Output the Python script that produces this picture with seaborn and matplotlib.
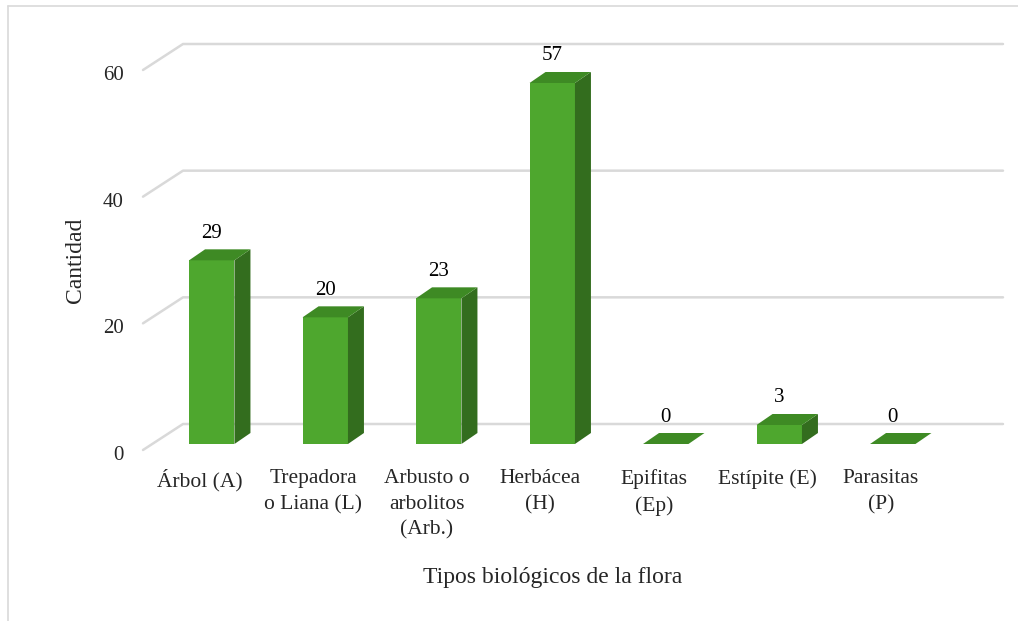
import pandas as pd
import matplotlib.pyplot as plt
import matplotlib.transforms as mtransforms
import seaborn as sns
from matplotlib.patches import Polygon
from matplotlib.lines import Line2D

# Data
categories = [
    "Árbol (A)",
    "Trepadora\no Liana (L)",
    "Arbusto o\narbolitos\n(Arb.)",
    "Herbácea\n(H)",
    "Epifitas\n(Ep)",
    "Estípite (E)",
    "Parasitas\n(P)",
]
values = [29, 20, 23, 57, 0, 3, 0]
y_ticks = [0, 20, 40, 60]

front_color = "#4EA72E"
top_color = "#3E8A24"
side_color = "#336D1E"
grid_color = "#D9D9D9"

sns.set_theme(style="white")
plt.rcParams["font.family"] = ["Liberation Serif", "DejaVu Serif"]

W, H = 1018, 621
fig = plt.figure(figsize=(W / 100, H / 100), dpi=100)
left_px, right_px, bottom_px, top_px = 143, 963, 450, 70
ax = fig.add_axes([left_px / W, 1 - bottom_px / H,
                   (right_px - left_px) / W, (bottom_px - top_px) / H])

df = pd.DataFrame({"tipo": categories, "cantidad": values})
sns.barplot(data=df, x="tipo", y="cantidad", color=front_color,
            width=0.4, saturation=1, ax=ax, zorder=3)

step = 113.5
xmax = -0.5 + (right_px - left_px) / step
ax.set_xlim(-0.5, xmax)
ax.set_ylim(0, 60)
px_x = 1 / step
px_y = 60 / (bottom_px - top_px)

# 3D look: bars shifted back a bit, with top and side faces
off_x, off_y = 12 * px_x, 6 * px_y
dep_x, dep_y = 16 * px_x, 11 * px_y
for p, v in zip(ax.patches, values):
    p.set_x(p.get_x() + off_x)
    p.set_y(off_y)
    p.set_edgecolor("none")
    p.set_clip_on(False)
    x0 = p.get_x()
    x1 = x0 + p.get_width()
    yt = v + off_y
    top = Polygon([(x0, yt), (x1, yt), (x1 + dep_x, yt + dep_y), (x0 + dep_x, yt + dep_y)],
                  closed=True, facecolor=top_color, edgecolor="none", zorder=4, clip_on=False)
    side = Polygon([(x1, off_y), (x1, yt), (x1 + dep_x, yt + dep_y), (x1 + dep_x, off_y + dep_y)],
                   closed=True, facecolor=side_color, edgecolor="none", zorder=4, clip_on=False)
    ax.add_patch(side)
    ax.add_patch(top)
    ax.text(x0 + p.get_width() / 2, yt + 27 * px_y, str(v), ha="center", va="center",
            fontsize=15, color="black")

# back wall gridlines
wall_x, wall_y = 40 * px_x, 26 * px_y
for t in y_ticks:
    ax.plot([-0.5, -0.5 + wall_x, xmax + wall_x], [t, t + wall_y, t + wall_y],
            color=grid_color, lw=1.8, clip_on=False, zorder=1)

ax.set_yticks(y_ticks)
ax.tick_params(axis="y", length=0, pad=14, labelsize=15)
ax.tick_params(axis="x", length=0, pad=14, labelsize=15.5)
shift = mtransforms.ScaledTranslation(0, -3 / 100, fig.dpi_scale_trans)
for lbl in ax.get_yticklabels():
    lbl.set_transform(lbl.get_transform() + shift)
for lbl in ax.get_xticklabels():
    lbl.set_linespacing(1.45)
ax.set_xlabel("Tipos biológicos de la flora", fontsize=17, labelpad=20)
ax.set_ylabel("Cantidad", fontsize=17, labelpad=12)
sns.despine(ax=ax, left=True, bottom=True)

# outer frame
fig.add_artist(Line2D([8 / W, 1], [1 - 6 / H, 1 - 6 / H], color=grid_color, lw=1.2))
fig.add_artist(Line2D([8 / W, 8 / W], [0, 1 - 6 / H], color=grid_color, lw=1.2))

fig.savefig("out.png", dpi=100)
